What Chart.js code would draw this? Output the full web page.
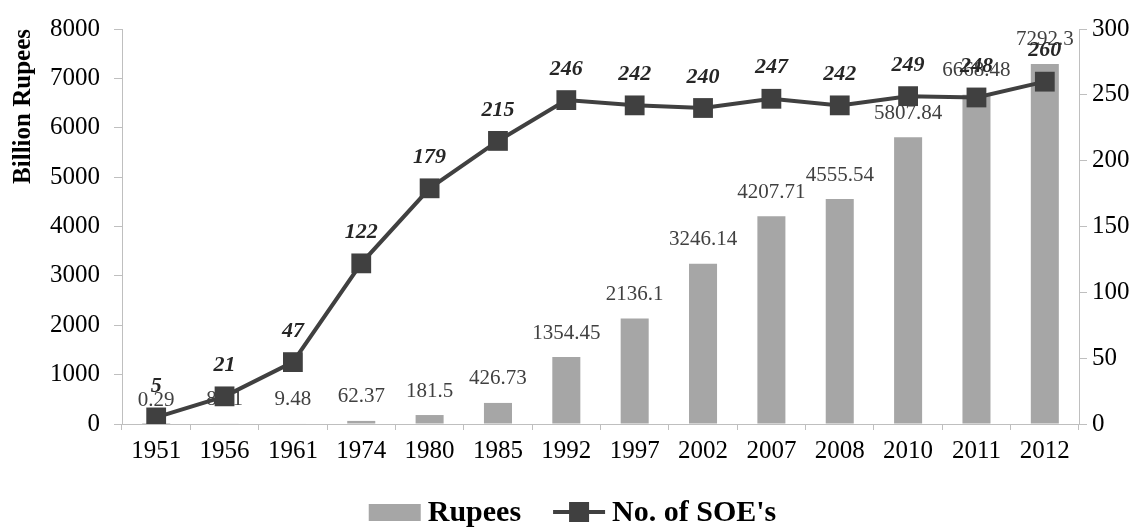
<!DOCTYPE html>
<html>
<head>
<meta charset="utf-8">
<script src="https://cdn.jsdelivr.net/npm/chart.js@4/dist/chart.umd.min.js"></script>
<style>
  html, body { margin: 0; padding: 0; background: #fff; }
  #wrap { width: 1145px; height: 527px; position: relative; }
</style>
</head>
<body>
<div id="wrap"><canvas id="chart"></canvas></div>
<script>
// data
var years  = ['1951','1956','1961','1974','1980','1985','1992','1997','2002','2007','2008','2010','2011','2012'];
var rupees = [0.29, 8.51, 9.48, 62.37, 181.5, 426.73, 1354.45, 2136.1, 3246.14, 4207.71, 4555.54, 5807.84, 6668.48, 7292.3];
var soes   = [5, 21, 47, 122, 179, 215, 246, 242, 240, 247, 242, 249, 248, 260];

var BAR = '#a6a6a6';
var LINE = '#404040';
var AXIS = '#bfbfbf';
var SERIF = "'Liberation Serif', 'Times New Roman', serif";

// value labels: bar ones go under the line, line ones on top
var labelPlugin = {
  id: 'valueLabels',
  afterDatasetDraw: function (chart, args) {
    var ctx = chart.ctx;
    var ds = chart.data.datasets[args.index];
    ctx.save();
    ctx.textAlign = 'center';
    ctx.textBaseline = 'middle';
    if (args.meta.type === 'bar') {
      ctx.font = '21px ' + SERIF;
      ctx.fillStyle = '#404040';
      args.meta.data.forEach(function (el, i) {
        ctx.fillText(String(ds.data[i]), el.x, el.y - 24);
      });
    } else {
      ctx.font = 'italic bold 22px ' + SERIF;
      ctx.fillStyle = '#262626';
      args.meta.data.forEach(function (el, i) {
        ctx.fillText(String(ds.data[i]), el.x, el.y - 31);
      });
    }
    ctx.restore();
  }
};

// legend drawn by hand so the symbols look like the original
var legendPlugin = {
  id: 'bottomLegend',
  afterDraw: function (chart) {
    var ctx = chart.ctx;
    var items = chart.data.datasets.map(function (d) { return { label: d.label, type: d.type }; });
    ctx.save();
    ctx.font = 'bold 30px ' + SERIF;
    var symW = 52, gap = 7, between = 32;
    var total = 0;
    items.forEach(function (it, i) {
      it.w = ctx.measureText(it.label).width;
      total += symW + gap + it.w + (i ? between : 0);
    });
    var x = (chart.width - total) / 2;
    var cy = 512;
    items.forEach(function (it, i) {
      if (i) x += between;
      if (it.type === 'bar') {
        ctx.fillStyle = BAR;
        ctx.fillRect(x, cy - 8, symW, 17);
      } else {
        ctx.strokeStyle = LINE;
        ctx.lineWidth = 4;
        ctx.beginPath();
        ctx.moveTo(x, cy);
        ctx.lineTo(x + symW, cy);
        ctx.stroke();
        ctx.fillStyle = LINE;
        ctx.fillRect(x + symW / 2 - 10, cy - 10, 20, 20);
      }
      x += symW + gap;
      ctx.fillStyle = '#000';
      ctx.textBaseline = 'middle';
      ctx.textAlign = 'left';
      ctx.fillText(it.label, x, cy + 1);
      x += it.w;
    });
    ctx.restore();
  }
};

function plain(v) { return String(v); }

new Chart(document.getElementById('chart'), {
  data: {
    labels: years,
    datasets: [
      {
        type: 'bar',
        label: 'Rupees',
        data: rupees,
        backgroundColor: BAR,
        yAxisID: 'y',
        order: 2,
        barPercentage: 0.41,
        categoryPercentage: 1
      },
      {
        type: 'line',
        label: "No. of SOE's",
        data: soes,
        borderColor: LINE,
        borderWidth: 4,
        tension: 0,
        pointStyle: 'rect',
        pointRadius: 14,
        pointBackgroundColor: LINE,
        pointBorderColor: LINE,
        pointBorderWidth: 0,
        yAxisID: 'y1',
        order: 1
      }
    ]
  },
  options: {
    responsive: true, maintainAspectRatio: false,
    animation: false,
    layout: { padding: { top: 27, left: 0, right: 0, bottom: 55 } },
    plugins: {
      legend: { display: false },
      tooltip: { enabled: false }
    },
    scales: {
      x: {
        grid: { drawOnChartArea: false, tickLength: 6, color: AXIS },
        border: { color: AXIS },
        ticks: { color: '#000', font: { family: SERIF, size: 25 }, padding: 6, maxRotation: 0 }
      },
      y: {
        position: 'left',
        min: 0, max: 8000,
        grid: { drawOnChartArea: false, tickLength: 8, color: AXIS },
        border: { color: AXIS },
        ticks: { stepSize: 1000, color: '#000', font: { family: SERIF, size: 25 }, padding: 14, callback: plain },
        title: {
          display: true, text: 'Billion Rupees', align: 'end',
          color: '#000', font: { family: SERIF, size: 25, weight: 'bold' },
          padding: { top: 9, bottom: 4 }
        },
        afterFit: function (s) { s.width = 122; }
      },
      y1: {
        position: 'right',
        min: 0, max: 300,
        grid: { drawOnChartArea: false, tickLength: 8, color: AXIS },
        border: { color: AXIS },
        ticks: { stepSize: 50, color: '#000', font: { family: SERIF, size: 25 }, padding: 5, callback: plain },
        afterFit: function (s) { s.width = 66; }
      }
    }
  },
  plugins: [labelPlugin, legendPlugin]
});
</script>
</body>
</html>
